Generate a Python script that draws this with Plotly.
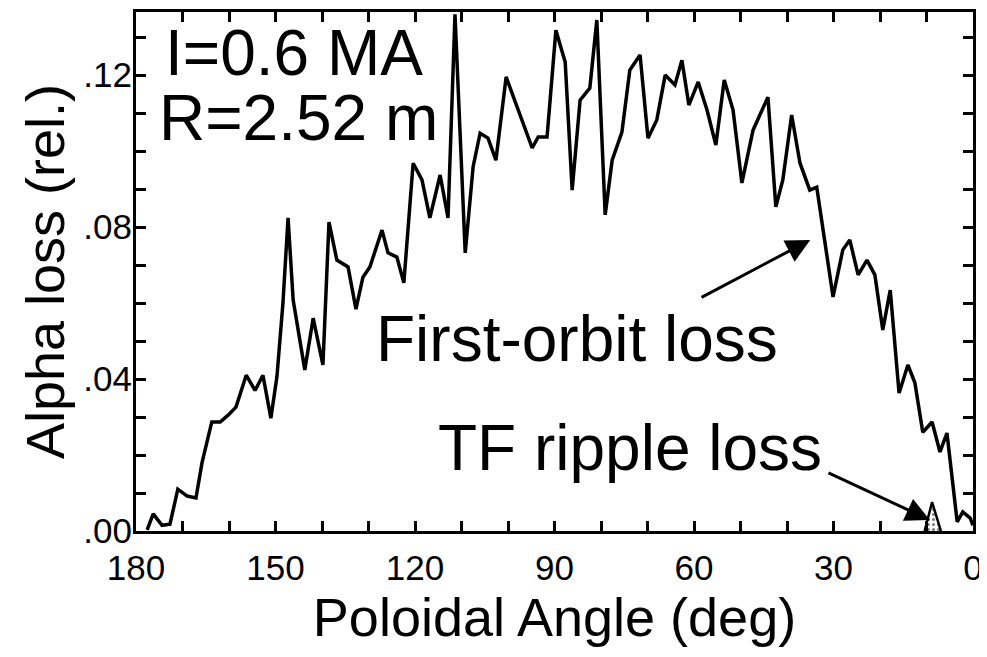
import plotly.graph_objects as go

# Poloidal angle (deg) and relative alpha loss
angle = [
    177.6, 176.3, 174.4, 172.7, 171.0, 169.0, 167.1, 165.8, 163.7, 161.9,
    160.2, 158.5, 156.3, 154.4, 152.7, 151.0, 149.7, 148.4, 147.3, 146.2,
    143.7, 141.9, 139.8, 138.5, 136.8, 134.4, 132.7, 131.2, 129.7, 127.1,
    125.8, 123.9, 122.4, 120.4, 118.5, 116.8, 114.6, 112.9, 111.4, 109.2,
    107.5, 106.0, 104.3, 102.6, 100.4, 98.1, 94.8, 93.5, 91.6, 89.7,
    87.7, 86.2, 84.5, 82.4, 80.9, 79.1, 77.6, 75.5, 73.8, 71.6,
    69.9, 68.0, 66.2, 64.1, 62.6, 61.1, 59.1, 57.2, 55.3, 53.5,
    51.6, 49.7, 47.3, 44.1, 42.4, 40.9, 39.0, 37.2, 35.1, 33.6,
    30.1, 28.0, 26.5, 24.7, 22.8, 21.1, 19.4, 17.8, 15.9, 14.0,
    12.5, 10.8, 8.8, 7.1, 5.6, 3.4, 2.2, 0.6, 0.0,
]
first_orbit_loss = [
    0.0003, 0.0045, 0.0015, 0.0018, 0.0110, 0.0092, 0.0087, 0.0180, 0.0287, 0.0287,
    0.0305, 0.0326, 0.0410, 0.0370, 0.0410, 0.0297, 0.0405, 0.0600, 0.0824, 0.0608,
    0.0424, 0.0560, 0.0437, 0.0813, 0.0713, 0.0695, 0.0584, 0.0668, 0.0695, 0.0792,
    0.0732, 0.0721, 0.0653, 0.0968, 0.0924, 0.0824, 0.0937, 0.0824, 0.1360, 0.0732,
    0.0959, 0.1047, 0.1034, 0.0976, 0.1195, 0.1116, 0.1008, 0.1037, 0.1037, 0.1318,
    0.1234, 0.0897, 0.1134, 0.1166, 0.1345, 0.0832, 0.0976, 0.1050, 0.1213, 0.1253,
    0.1034, 0.1082, 0.1200, 0.1174, 0.1239, 0.1121, 0.1182, 0.1108, 0.1016, 0.1187,
    0.1108, 0.0916, 0.1055, 0.1142, 0.0853, 0.0924, 0.1095, 0.0968, 0.0897, 0.0905,
    0.0616, 0.0740, 0.0766, 0.0674, 0.0713, 0.0674, 0.0529, 0.0634, 0.0363, 0.0437,
    0.0390, 0.0260, 0.0287, 0.0208, 0.0258, 0.0024, 0.0050, 0.0034, 0.0015,
]

# small TF ripple loss bump
ripple_angle = [10.4, 8.8, 6.9]
ripple_loss = [0.0, 0.0076, 0.0]

# labelled ticks; every 10 deg / every .01 gets an unlabelled tick mark
x_ticks = [180, 150, 120, 90, 60, 30, 0]
y_ticks = [0.0, 0.04, 0.08, 0.12]
y_ticktext = ['.00', '.04', '.08', '.12']

x_tickvals = list(range(0, 181, 10))
x_ticktext = [str(v) if v in x_ticks else '' for v in x_tickvals]
y_tickvals = [i / 100 for i in range(14)]
y_labels = dict(zip([round(v, 2) for v in y_ticks], y_ticktext))
y_tickvals_text = [y_labels.get(round(v, 2), '') for v in y_tickvals]

FONT = 'Liberation Sans, Arial, sans-serif'

fig = go.Figure()
fig.add_trace(go.Scatter(
    x=angle, y=first_orbit_loss, mode='lines',
    line=dict(color='black', width=3.5), showlegend=False,
))
fig.add_trace(go.Scatter(
    x=ripple_angle, y=ripple_loss, mode='lines', fill='toself',
    fillcolor='white', fillpattern=dict(shape='.', fgcolor='black', size=5, solidity=0.3),
    line=dict(color='black', width=2.5), showlegend=False,
))

big = dict(family=FONT, size=64, color='black')
fig.add_annotation(x=174.2, y=0.1259, text='I=0.6 MA', showarrow=False,
                   xanchor='left', yanchor='middle', font=big)
fig.add_annotation(x=175.5, y=0.1087, text='R=2.52 m', showarrow=False,
                   xanchor='left', yanchor='middle', font=big)
fig.add_annotation(x=128.9, y=0.0505, text='First-orbit loss', showarrow=False,
                   xanchor='left', yanchor='middle', font=big)
fig.add_annotation(x=115.5, y=0.0219, text='TF ripple loss', showarrow=False,
                   xanchor='left', yanchor='middle', font=big)

# arrows
arrow = dict(showarrow=True, arrowhead=2, arrowwidth=3, arrowsize=1.6,
             arrowcolor='black', axref='x', ayref='y', text='')
fig.add_annotation(x=35.0, y=0.0766, ax=58.7, ay=0.0613, **arrow)
fig.add_annotation(x=9.3, y=0.0029, ax=31.4, ay=0.0155, **arrow)

axis_common = dict(
    showline=True, linecolor='black', linewidth=3, mirror='allticks',
    ticks='inside', ticklen=10, tickwidth=3, tickcolor='black',
    showgrid=False, zeroline=False, automargin=False,
    tickfont=dict(family=FONT, size=35, color='black'),
    title_font=dict(family=FONT, size=54, color='black'),
)

fig.update_xaxes(
    range=[180, 0], tickvals=x_tickvals, ticktext=x_ticktext,
    title_text='Poloidal Angle (deg)', title_standoff=8,
    ticklabelstandoff=4, ticklabeloverflow='allow',
    **axis_common,
)
fig.update_yaxes(
    range=[0, 0.1366], tickvals=y_tickvals, ticktext=y_tickvals_text,
    title_text='Alpha loss (rel.)', title_standoff=2, ticklabelstandoff=-6,
    **axis_common,
)

# the page adds an 8px body margin: shift the figure so the frame lands where it should,
# and let it run to the right window edge so the "0" label is not clipped
fig.update_layout(
    width=979, height=641,
    margin=dict(l=128, r=14, t=4, b=118),
    plot_bgcolor='white', paper_bgcolor='white',
)

fig.write_html('out.html')
